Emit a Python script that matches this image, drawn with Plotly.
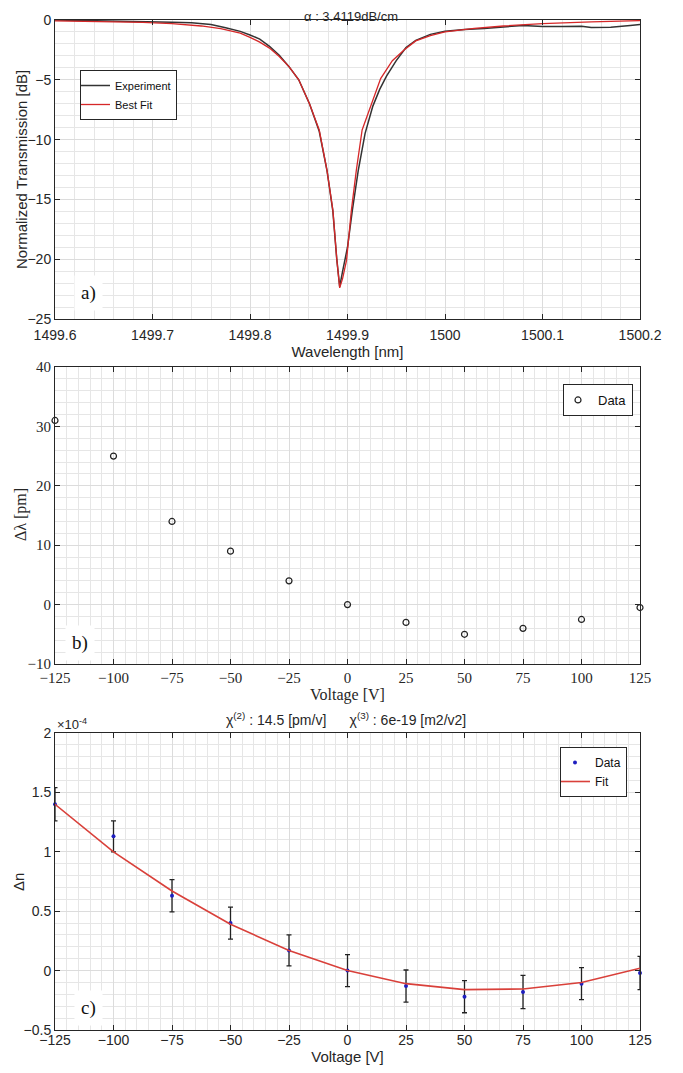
import plotly.graph_objects as go

# ---------------- data ----------------
# panel a
wl_exp = [1499.60, 1499.62, 1499.65, 1499.68, 1499.70, 1499.72, 1499.74, 1499.76, 1499.775,
          1499.79, 1499.80, 1499.81, 1499.82, 1499.83, 1499.84, 1499.85, 1499.861, 1499.871,
          1499.879, 1499.885, 1499.889, 1499.892, 1499.895, 1499.900, 1499.905, 1499.911,
          1499.918, 1499.926, 1499.933, 1499.940, 1499.950, 1499.960, 1499.970, 1499.985,
          1500.00, 1500.02, 1500.04, 1500.06, 1500.08, 1500.09, 1500.10, 1500.12, 1500.14,
          1500.15, 1500.17, 1500.19, 1500.20]
db_exp = [0.0, -0.02, -0.08, -0.12, -0.15, -0.18, -0.22, -0.38, -0.65,
          -0.95, -1.25, -1.6, -2.2, -2.95, -3.9, -5.0, -7.0, -9.3,
          -12.6, -16.0, -20.0, -22.3, -21.0, -19.0, -15.9, -12.6,
          -9.5, -7.2, -5.8, -4.7, -3.4, -2.3, -1.7, -1.2,
          -0.95, -0.8, -0.72, -0.6, -0.45, -0.5, -0.55, -0.55, -0.52,
          -0.62, -0.6, -0.45, -0.38]

wl_fit = [1499.60, 1499.63, 1499.66, 1499.69, 1499.72, 1499.75, 1499.77, 1499.79, 1499.80,
          1499.81, 1499.82, 1499.83, 1499.84, 1499.85, 1499.861, 1499.871, 1499.879,
          1499.885, 1499.889, 1499.892, 1499.895, 1499.899, 1499.904, 1499.909, 1499.915,
          1499.925, 1499.934, 1499.946, 1499.958, 1499.970, 1499.985, 1500.00, 1500.03,
          1500.06, 1500.10, 1500.15, 1500.20]
db_fit = [-0.08, -0.10, -0.14, -0.20, -0.30, -0.50, -0.72, -1.10, -1.45,
          -1.85, -2.35, -3.05, -3.9, -5.0, -7.0, -9.2, -12.6,
          -15.9, -20.0, -22.4, -21.6, -20.1, -15.9, -12.6, -9.2,
          -7.0, -4.9, -3.4, -2.5, -1.75, -1.3, -1.0, -0.7,
          -0.5, -0.3, -0.15, -0.05]

wl_ticks = [1499.6, 1499.7, 1499.8, 1499.9, 1500.0, 1500.1, 1500.2]
wl_tick_labels = ["1499.6", "1499.7", "1499.8", "1499.9", "1500", "1500.1", "1500.2"]

# panel b
voltage = [-125, -100, -75, -50, -25, 0, 25, 50, 75, 100, 125]
dlambda = [31, 25, 14, 9, 4, 0, -3, -5, -4, -2.5, -0.5]

# panel c (units of 1e-4)
dn = [1.40, 1.13, 0.63, 0.40, 0.17, 0.0, -0.13, -0.22, -0.18, -0.11, -0.02]
dn_err = [0.14, 0.13, 0.135, 0.135, 0.13, 0.135, 0.135, 0.135, 0.14, 0.135, 0.14]
dn_fit = [1.40, 1.00, 0.67, 0.39, 0.17, 0.0, -0.11, -0.16, -0.155, -0.10, 0.02]

# ---------------- layout helpers ----------------
OFF = 8                      # default body margin of the page
W, H = 683 - 2 * OFF, 1073 - 2 * OFF


def px(x):
    return (x - OFF) / W


def py(y):
    return 1 - (y - OFF) / H


AX = "#262626"
GRID = "#dcdcdc"
MINOR = "#e6e6e6"
SANS = "Liberation Sans, Arial, sans-serif"
SERIF = "Liberation Serif, Times New Roman, serif"

fig = go.Figure()

fig.add_trace(go.Scatter(x=wl_exp, y=db_exp, mode="lines", name="Experiment",
                         line=dict(color="#333333", width=1.5), xaxis="x", yaxis="y",
                         legend="legend"))
fig.add_trace(go.Scatter(x=wl_fit, y=db_fit, mode="lines", name="Best Fit",
                         line=dict(color="#d62728", width=1.3), xaxis="x", yaxis="y",
                         legend="legend"))

fig.add_trace(go.Scatter(x=voltage, y=dlambda, mode="markers", name="Data",
                         marker=dict(symbol="circle-open", size=6, color="#222222",
                                     line=dict(width=1.2, color="#222222")),
                         xaxis="x2", yaxis="y2", legend="legend2", cliponaxis=False))

fig.add_trace(go.Scatter(x=voltage, y=dn, mode="markers", name="Data",
                         marker=dict(size=4, color="#1f1fbf"),
                         error_y=dict(type="data", array=dn_err, visible=True,
                                      color="#222222", thickness=1.3, width=2.5),
                         xaxis="x3", yaxis="y3", legend="legend3", cliponaxis=False))
fig.add_trace(go.Scatter(x=voltage, y=dn_fit, mode="lines", name="Fit",
                         line=dict(color="#d9403a", width=1.6),
                         xaxis="x3", yaxis="y3", legend="legend3"))


def axis(domain, rng, dtick, minor_dtick, font, size, title=None, standoff=0,
         tickvals=None, ticktext=None, anchor=None, lblshift=0):
    d = dict(domain=domain, range=rng, showline=True, linecolor=AX, linewidth=1,
             mirror="ticks", ticks="inside", ticklen=5, tickcolor=AX, tickwidth=1,
             showgrid=True, gridcolor=GRID, gridwidth=1, zeroline=False,
             tickfont=dict(family=font, size=size, color=AX),
             minor=dict(dtick=minor_dtick, showgrid=True, gridcolor=MINOR, ticks=""),
             anchor=anchor, automargin=False, ticklabelstandoff=lblshift)
    if title:
        d["title"] = dict(text=title, font=dict(family=font, size=size + 1, color=AX),
                          standoff=standoff)
    if tickvals is not None:
        d.update(tickmode="array", tickvals=tickvals, ticktext=ticktext)
    else:
        d.update(dtick=dtick, tick0=0)
    return d


xa = [px(55), px(640)]
leg_common = dict(yanchor="top", bgcolor="white", bordercolor=AX,
                  borderwidth=1, itemwidth=30, tracegroupgap=0, indentation=-6)
fig.update_layout(
    width=W, height=H, margin=dict(l=0, r=0, t=0, b=0),
    paper_bgcolor="white", plot_bgcolor="white",
    xaxis=axis(xa, [1499.6, 1500.2], 0.1, 0.02, SANS, 14, "Wavelength [nm]", 4,
               tickvals=wl_ticks, ticktext=wl_tick_labels, anchor="y", lblshift=3),
    yaxis=axis([py(319), py(20)], [-25, 0], 5, 1, SANS, 14, anchor="x"),
    xaxis2=axis(xa, [-125, 125], 25, 5, SERIF, 15, "Voltage [V]", 2, anchor="y2"),
    yaxis2=axis([py(664), py(367)], [-10, 40], 10, 2, SERIF, 15, anchor="x2"),
    xaxis3=axis(xa, [-125, 125], 25, 5, SANS, 14, "Voltage [V]", 5, anchor="y3",
                lblshift=-3),
    yaxis3=axis([py(1030), py(733)], [-0.5, 2], 0.5, 0.1, SANS, 14, anchor="x3"),
    legend=dict(x=px(80), y=py(70), xanchor="left",
                font=dict(family=SANS, size=11, color="#111"), **leg_common),
    legend2=dict(x=px(633), y=py(384), xanchor="right",
                 font=dict(family=SANS, size=13, color="#111"), **leg_common),
    legend3=dict(x=px(627), y=py(747), xanchor="right",
                 font=dict(family=SANS, size=12, color="#111"), **leg_common),
    showlegend=True,
)

NB = "\u00a0"
ann = [
    dict(text="α : 3.4119dB/cm", x=px(351), y=py(16), size=13),
    dict(text="χ<sup>(2)</sup> : 14.5 [pm/v]" + NB * 6 + "χ<sup>(3)</sup> : 6e-19 [m2/v2]",
         x=px(346), y=py(719), size=14),
    dict(text="×10<sup>-4</sup>", x=px(55), y=py(724), xanchor="left", size=13),
    dict(text="Normalized Transmission [dB]", x=px(22), y=py(170), textangle=-90, size=15),
    dict(text="Δλ [pm]", x=px(21), y=py(515), textangle=-90, size=16, family=SERIF),
    dict(text="Δn", x=px(18), y=py(882), textangle=-90, size=15),
    dict(text="a)", x=px(88), y=py(293), bg=True, size=19, family=SERIF),
    dict(text="b)", x=px(80), y=py(643), bg=True, size=19, family=SERIF),
    dict(text="c)", x=px(88), y=py(1008), bg=True, size=19, family=SERIF),
]
annotations = []
for a in ann:
    d = dict(text=a["text"], x=a["x"], y=a["y"], xref="paper", yref="paper",
             showarrow=False, xanchor=a.get("xanchor", "center"), yanchor="middle",
             textangle=a.get("textangle", 0),
             font=dict(family=a.get("family", SANS), size=a.get("size", 14), color=AX))
    if a.get("bg"):
        d.update(bgcolor="white", borderpad=6)
        d["font"]["color"] = "#111"
    annotations.append(d)
fig.update_layout(annotations=annotations)

fig.write_html("out.html")
